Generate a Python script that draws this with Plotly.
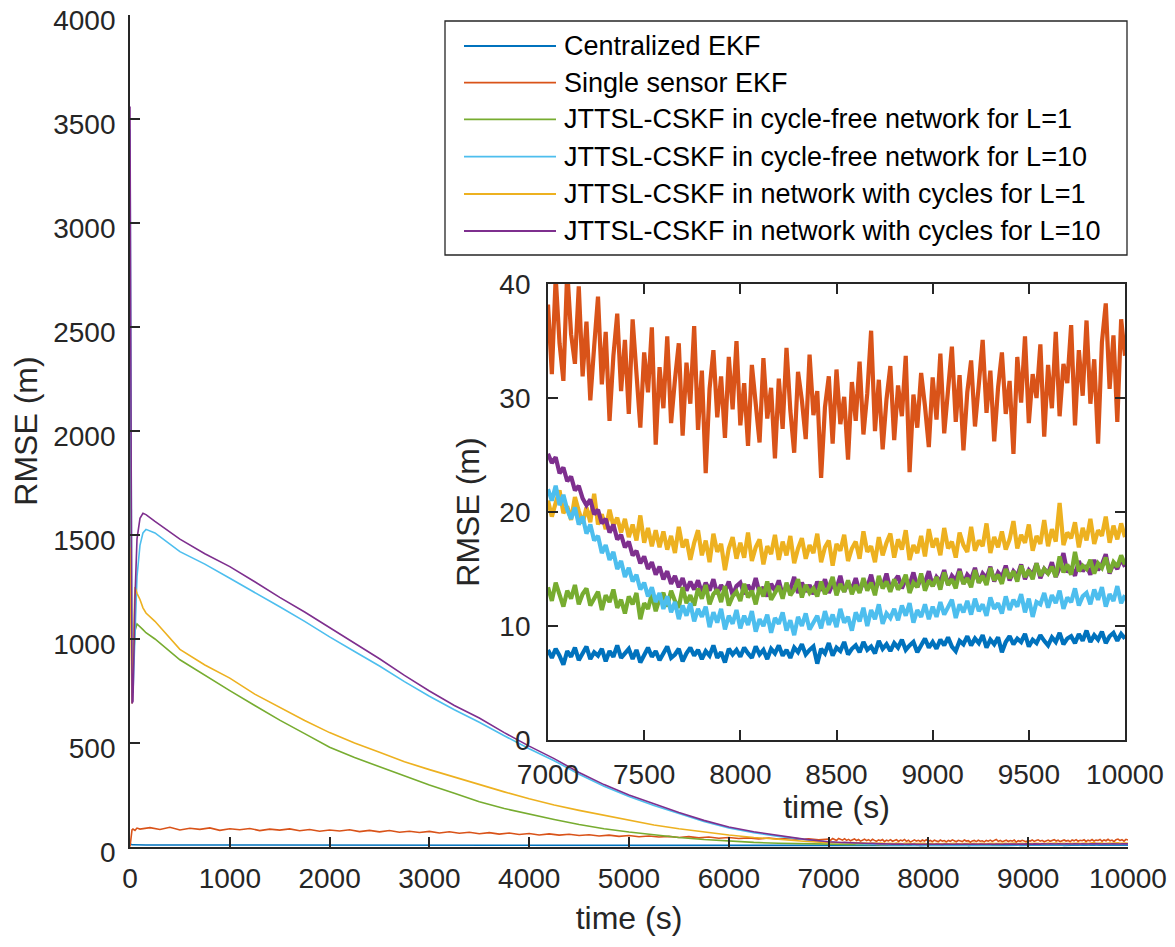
import plotly.graph_objects as go

# ---------------- data ----------------
series_names = [
    "Centralized EKF",
    "Single sensor EKF",
    "JTTSL-CSKF in cycle-free network for L=1",
    "JTTSL-CSKF in cycle-free network for L=10",
    "JTTSL-CSKF in network with cycles for L=1",
    "JTTSL-CSKF in network with cycles for L=10",
]
series_colors = ["#0072BD", "#D95319", "#77AC30", "#4DBEEE", "#EDB120", "#7E2F8E"]

# time grid for the smooth part of the main curves (0 .. 6750 s)
t_main = [0, 10, 20, 30, 50, 70, 100, 130, 160] + list(range(250, 7000, 250))
# time grid for the noisy single-sensor curve in the main plot (0 .. 6900 s)
t_single = [0, 10, 20, 30, 50, 70] + list(range(100, 7000, 100))
# time grid of the zoomed part (7000 .. 10000 s, every 20 s)
t_zoom = list(range(7000, 10001, 20))

centralized_main = [15, 12, 11, 11, 10.5, 10, 10, 10, 9.8,
                    9.8, 9.6, 9.5, 9.3, 9.2, 9.0, 8.9, 8.8, 8.7, 8.6, 8.5, 8.4, 8.3, 8.2,
                    8.1, 8.0, 8.0, 7.9, 7.9, 7.8, 7.8, 7.7, 7.7, 7.6, 7.6, 7.5, 7.5]
single_main = [2, 55, 82, 86, 80, 91,
               86, 93, 84, 95, 82, 90, 85, 92, 80, 88,
               83, 89, 79, 86, 81, 87, 78, 84, 76, 82,
               77, 83, 74, 80, 73, 79, 71, 76, 70, 75,
               67, 73, 66, 71, 64, 69, 62, 67, 60, 65,
               58, 63, 57, 61, 55, 59, 53, 57, 51, 55,
               49, 53, 48, 51, 46, 50, 44, 48, 42, 46,
               41, 44, 39, 43, 38, 41, 36, 40, 35]
cf1_main = [2300, 1400, 720, 850, 1040, 1072, 1060, 1045, 1030,
            1000, 900, 825, 752, 680, 610, 545, 480, 430, 385, 340, 298, 258, 218,
            185, 157, 132, 108, 88, 72, 58, 46, 36, 28, 22, 18, 15]
cf10_main = [3450, 1800, 760, 740, 1050, 1300, 1450, 1510, 1527,
             1510, 1420, 1360, 1292, 1225, 1155, 1085, 1010, 940, 870, 795, 725, 660, 600,
             535, 472, 415, 350, 292, 243, 200, 160, 123, 92, 69, 51, 35]
cyc1_main = [1440, 1000, 690, 900, 1250, 1220, 1190, 1150, 1125,
             1085, 950, 875, 812, 735, 670, 608, 550, 500, 455, 410, 372, 336, 300,
             265, 232, 202, 176, 153, 130, 106, 88, 72, 58, 46, 36, 28]
cyc10_main = [3560, 2000, 690, 700, 1200, 1480, 1580, 1604, 1598,
              1565, 1480, 1410, 1348, 1275, 1200, 1130, 1055, 980, 905, 825, 750, 680, 620,
              550, 485, 425, 358, 300, 250, 208, 166, 128, 96, 73, 55, 38]

centralized_zoom = [
    7.9, 7.2, 8.0, 7.4, 6.6, 7.8, 7.3, 8.1, 7.0, 7.6,
    8.2, 7.1, 7.7, 7.4, 8.0, 6.9, 7.8, 7.3, 8.3, 7.2,
    7.6, 8.0, 7.1, 7.9, 6.8, 7.5, 8.1, 7.3, 7.8, 7.0,
    7.7, 8.2, 7.2, 7.5, 8.0, 6.9, 7.6, 8.1, 7.4, 7.9,
    7.1, 7.8, 7.4, 8.3, 7.2, 7.7, 6.8, 8.0, 7.5, 7.9,
    7.3, 8.1, 7.6, 7.2, 8.2, 7.5, 7.9, 7.1, 8.0, 7.6,
    8.3, 7.4, 7.9, 7.2, 8.1, 7.7, 8.4, 7.5, 7.9, 8.2,
    6.7, 8.0, 7.6, 8.5, 7.4, 8.1, 7.8, 8.6, 7.5, 8.0,
    8.3, 7.7, 8.6, 7.9, 8.2, 7.6, 8.7, 8.0, 8.4, 7.8,
    8.5, 8.1, 8.8, 7.9, 8.3, 8.6, 7.7, 8.4, 8.9, 8.1,
    8.6, 8.0, 8.8, 8.3, 9.0, 8.2, 7.8, 8.7, 8.4, 9.1,
    8.3, 8.9, 8.5, 9.2, 8.1, 8.8, 8.4, 9.0, 7.7, 8.6,
    9.1, 8.4, 8.9, 8.6, 9.3, 8.2, 8.8, 8.5, 9.2, 8.7,
    8.3, 9.0, 8.6, 9.4, 8.4, 8.9, 9.1, 8.5, 9.3, 8.7,
    9.6, 8.6, 9.2, 8.8, 9.5, 8.5, 9.1, 9.4, 8.7, 9.3,
    8.9]
single_zoom = [
    38.2, 32.1, 40.6, 34.8, 31.5, 41.2, 35.6, 33.0, 39.8, 31.9,
    36.7, 29.8, 34.5, 38.9, 31.2, 35.8, 28.0, 33.7, 37.4, 30.6,
    35.1, 28.6, 36.9, 31.8, 27.4, 34.0, 30.5, 36.2, 25.9, 32.7,
    29.1, 35.4, 27.8, 31.6, 34.8, 26.7, 33.1, 29.5, 36.3, 27.2,
    32.4, 23.4, 30.8, 34.2, 28.3, 31.9, 26.5, 33.6, 29.0, 35.0,
    27.6, 31.3, 25.8, 32.9, 29.4, 26.1, 33.5, 28.2, 30.9, 24.7,
    31.7, 27.3, 34.4, 28.9, 25.2, 32.3, 29.8, 26.4, 33.8, 28.5,
    30.6, 23.0, 29.2, 31.9, 26.0, 32.5, 27.7, 30.1, 24.6, 31.4,
    28.0, 33.2, 26.8, 30.4, 35.9, 27.1, 31.6, 25.5, 29.9, 32.8,
    26.3, 31.1, 28.4, 33.7, 23.5, 30.3, 27.4, 32.2, 29.3, 25.7,
    31.8, 28.1, 33.9, 26.9, 30.7, 34.5, 27.9, 32.0, 25.4, 30.5,
    33.3, 27.5, 31.2, 35.1, 28.7, 32.4, 26.2, 30.9, 34.0, 28.6,
    31.5, 25.1, 33.6, 29.6, 35.4, 27.8, 32.1, 30.0, 34.7, 26.6,
    32.9, 29.1, 35.8, 28.4, 33.0, 31.3, 36.4, 27.6, 34.2, 30.2,
    36.8, 29.5, 33.4, 26.0, 34.9, 38.3, 30.8, 35.5, 27.9, 36.9,
    33.7]
cf1_zoom = [
    13.4, 12.2, 13.8, 12.6, 11.7, 13.1, 12.4, 13.6, 11.9, 12.8,
    13.3, 11.8, 12.5, 13.0, 11.4, 12.7, 12.1, 13.2, 11.6, 12.3,
    11.1, 12.6, 11.9, 12.9, 10.6, 12.0, 11.5, 12.8, 11.3, 12.4,
    12.9, 11.7, 13.1, 12.2, 11.6, 13.4, 12.0, 12.7, 11.8, 13.3,
    12.4, 13.6, 11.9, 12.8, 13.2, 12.1, 13.5, 11.8, 12.6, 13.0,
    12.2, 13.7, 12.5, 13.1, 11.9, 13.4, 12.6, 13.9, 12.3, 12.9,
    13.5, 12.4, 13.8, 12.7, 13.2, 14.1, 12.5, 13.6, 12.9, 13.3,
    12.6, 13.9, 12.8, 13.4, 14.3, 12.7, 13.7, 13.0, 14.0, 12.8,
    13.6, 12.9, 14.2, 13.1, 13.8, 12.7, 14.4, 13.3, 13.9, 13.0,
    14.1, 13.2, 13.7, 14.5, 12.9, 13.8, 13.4, 14.6, 13.1, 14.0,
    13.5, 14.3, 13.2, 14.7, 13.6, 14.1, 13.3, 14.8, 13.7, 14.2,
    13.4, 14.9, 13.8, 14.4, 13.6, 15.1, 14.0, 14.5, 13.7, 15.0,
    14.2, 14.8, 13.9, 15.3, 14.3, 14.9, 14.1, 15.5, 14.4, 15.0,
    14.6, 15.2, 14.3, 16.1, 14.7, 15.4, 14.5, 16.5, 14.8, 15.3,
    15.0, 15.8, 14.6, 15.5, 15.1, 16.0, 14.7, 15.6, 15.2, 16.2,
    15.4]
cf10_zoom = [
    22.0, 21.0, 22.3, 20.6, 21.5, 20.2, 19.4, 20.4, 18.9, 19.6,
    18.1, 18.9, 17.5, 17.9, 16.4, 17.1, 15.8, 16.5, 15.0, 15.7,
    14.3, 15.1, 13.9, 14.5, 13.2, 13.8, 12.6, 13.4, 12.1, 12.9,
    11.5, 12.6, 11.2, 12.1, 10.6, 11.8, 10.9, 12.0, 10.4, 11.5,
    10.8, 11.7, 9.9, 11.2, 10.3, 11.5, 9.7, 10.9, 10.2, 11.4,
    9.8, 10.9, 10.1, 11.3, 9.5, 10.6, 10.0, 11.0, 9.4, 10.7,
    10.2, 11.2, 9.6, 10.5, 9.2, 10.8, 10.0, 11.1, 9.7, 10.4,
    10.9, 9.8, 11.3, 10.1, 11.0, 9.9, 11.5, 10.3, 10.8, 9.6,
    11.2, 10.4, 11.6, 10.0, 11.4, 10.6, 11.9, 10.2, 11.1, 10.7,
    11.5, 10.5, 11.8, 10.9, 12.0, 10.3, 11.4, 10.8, 11.9, 10.6,
    11.7, 10.8, 12.1, 11.0, 11.6, 12.3, 10.7, 11.9, 11.2, 12.2,
    11.0, 12.4, 11.3, 11.9, 10.9, 12.5, 11.5, 12.0, 11.1, 12.6,
    11.4, 12.3, 11.7, 12.8, 11.2, 12.4, 10.8, 12.1, 11.9, 12.9,
    11.6, 12.7, 12.0, 13.1, 11.5, 12.5, 12.1, 13.3, 11.8, 12.6,
    12.9, 11.9, 13.2, 12.3, 13.4, 11.7, 12.8, 12.2, 13.5, 12.0,
    12.7]
cyc1_zoom = [
    21.0, 19.6, 20.8, 21.9, 19.9, 20.5, 19.3, 21.3, 20.1, 19.0,
    20.4, 19.1, 21.6, 18.9, 19.8, 18.5, 20.2, 18.8, 19.5, 18.2,
    19.4, 17.8, 18.9, 17.5, 19.7, 17.3, 18.6, 17.0, 18.4, 16.9,
    18.3, 16.7, 17.9, 16.4, 18.7, 16.9, 17.6, 15.8, 17.3, 18.4,
    16.2, 17.5, 15.6, 18.1, 16.5, 17.2, 14.9, 16.8, 17.8, 15.9,
    17.3, 16.0, 18.2, 15.7, 16.9, 17.6, 15.4, 17.0, 16.3, 18.0,
    15.8, 17.4, 16.2, 17.9, 15.5, 16.8, 17.7, 15.9, 17.1, 16.4,
    18.1, 15.6, 16.9, 17.5, 15.3, 17.2, 16.6, 18.0, 15.7, 16.8,
    17.4, 15.9, 18.3, 16.5, 17.0, 15.6, 17.8, 16.2, 17.3, 18.1,
    16.0, 17.6, 16.7, 18.4, 15.8, 17.1, 16.4, 17.9, 16.1, 18.5,
    16.9, 17.7, 16.2, 18.6, 16.8, 17.4, 16.0, 18.2, 17.1, 16.5,
    18.7, 16.6, 17.5, 17.0, 19.0, 16.4, 17.8, 16.9, 18.3, 16.7,
    17.6, 19.2, 16.8, 18.0, 17.3, 18.9, 16.6, 17.9, 17.2, 19.3,
    17.0, 18.5, 17.4, 20.8, 17.1, 18.2, 17.7, 19.1, 16.9, 18.6,
    17.5, 19.4, 17.2, 18.4, 17.9, 19.6, 17.3, 18.8, 17.6, 19.0,
    17.8]
cyc10_zoom = [
    25.1, 24.3, 24.8, 23.4, 23.9, 22.7, 23.1, 21.9, 22.3, 21.2,
    20.6, 21.1, 19.8, 20.2, 19.0, 19.4, 18.2, 18.9, 17.6, 18.0,
    16.9, 17.4, 16.2, 16.6, 15.5, 16.1, 15.0, 15.6, 14.5, 15.2,
    14.1, 14.8, 13.7, 14.4, 13.4, 14.2, 13.1, 13.9, 13.2, 14.0,
    12.9, 13.8, 13.1, 14.1, 12.8, 13.6, 13.0, 13.9, 12.7, 13.5,
    13.8, 12.8, 13.6, 13.0, 14.2, 12.9, 13.4, 12.6, 13.7, 13.1,
    14.0, 12.7, 13.5, 13.2, 14.3, 12.9, 13.8, 13.0, 13.6, 12.8,
    13.9, 13.1, 14.1, 12.9, 13.7, 13.3, 14.4, 13.0, 13.8, 13.2,
    14.2, 13.0, 13.9, 13.4, 14.5, 13.1, 14.0, 13.5, 14.6, 13.2,
    13.9, 14.4, 13.3, 14.1, 13.6, 14.7, 13.4, 14.2, 13.8, 14.8,
    13.5, 14.3, 13.9, 14.9, 13.6, 14.4, 14.0, 15.0, 13.7, 14.5,
    14.1, 15.1, 13.8, 14.6, 14.2, 15.2, 13.9, 14.7, 14.3, 15.3,
    14.0, 14.8, 14.4, 15.4, 14.1, 14.9, 14.5, 15.5, 14.2, 15.0,
    14.6, 15.6, 14.3, 15.1, 16.4, 14.7, 15.2, 14.4, 15.7, 14.8,
    15.3, 14.5, 15.8, 14.9, 15.4, 16.3, 14.6, 15.5, 15.0, 15.9,
    15.2]

main_x_ticks = list(range(0, 10001, 1000))
main_y_ticks = list(range(0, 4001, 500))
zoom_x_ticks = list(range(7000, 10001, 500))
zoom_y_ticks = [0, 10, 20, 30, 40]

# ---------------- figure ----------------
W, H = 1175, 947
OFF = 8  # page body margin of the browser
ML, MT = 130 - OFF, 15 - OFF
MR = W - (1128 - OFF)
MB = H - (847 - OFF)
PW, PH = W - ML - MR, H - MT - MB


def px_x(px):
    return (px - OFF - ML) / PW


def px_y(py):
    return (H - MB - (py - OFF)) / PH


AX = "#262626"
FONT = "Liberation Sans, Arial, Helvetica, sans-serif"

fig = go.Figure()

main_data = [
    (t_main, centralized_main, centralized_zoom),
    (t_single, single_main, single_zoom),
    (t_main, cf1_main, cf1_zoom),
    (t_main, cf10_main, cf10_zoom),
    (t_main, cyc1_main, cyc1_zoom),
    (t_main, cyc10_main, cyc10_zoom),
]
for i, (tt, early, late) in enumerate(main_data):
    fig.add_trace(go.Scatter(
        x=list(tt) + t_zoom, y=list(early) + late, mode="lines",
        line=dict(color=series_colors[i], width=1.6),
        name=series_names[i], showlegend=False, hoverinfo="skip",
        xaxis="x", yaxis="y"))

zoom_series = [centralized_zoom, single_zoom, cf1_zoom, cf10_zoom, cyc1_zoom, cyc10_zoom]
zoom_order = [4, 5, 2, 3, 1, 0]
for i in zoom_order:
    fig.add_trace(go.Scatter(
        x=t_zoom, y=zoom_series[i], mode="lines",
        line=dict(color=series_colors[i], width=4.2),
        name=series_names[i], showlegend=False, hoverinfo="skip",
        xaxis="x2", yaxis="y2"))

axis_common = dict(
    showline=True, linecolor=AX, linewidth=1.8, ticks="inside", ticklen=10,
    tickwidth=1.5, tickcolor=AX, showgrid=False, zeroline=False, automargin=False,
    tickformat="d", ticklabeloverflow="allow",
    tickfont=dict(family=FONT, size=28, color=AX),
)
title_font = dict(family=FONT, size=32, color=AX)

fig.update_layout(
    width=W, height=H,
    margin=dict(l=ML, r=MR, t=MT, b=MB),
    paper_bgcolor="white", plot_bgcolor="white",
    showlegend=False,
    xaxis=dict(domain=[0, 1], range=[0, 10000], tickvals=main_x_ticks,
               anchor="y", ticklabelstandoff=5,
               title=dict(text="time (s)", font=title_font, standoff=14),
               **axis_common),
    yaxis=dict(domain=[0, 1], range=[0, 4000], tickvals=main_y_ticks,
               anchor="x", ticklabelstandoff=7, ticklabelshift=5,
               title=dict(text="RMSE (m)", font=title_font, standoff=16),
               **axis_common),
    xaxis2=dict(domain=[px_x(548), px_x(1125)], range=[7000, 10000], tickvals=zoom_x_ticks,
                anchor="y2", mirror="ticks", ticklabelstandoff=8,
                title=dict(text="time (s)", font=title_font, standoff=0),
                **axis_common),
    yaxis2=dict(domain=[px_y(740), px_y(284)], range=[0, 40], tickvals=zoom_y_ticks,
                anchor="x2", mirror="ticks", ticklabelstandoff=10,
                title=dict(text="RMSE (m)", font=title_font, standoff=10),
                **axis_common),
)

# ---------------- legend (drawn as shapes + text) ----------------
fig.add_shape(type="rect", xref="paper", yref="paper",
              x0=px_x(445), x1=px_x(1127), y0=px_y(255), y1=px_y(21),
              line=dict(color=AX, width=1.3), fillcolor="white", layer="above")
row_py = [46, 82.7, 119.3, 156.7, 194, 231]
for i, name in enumerate(series_names):
    yy = px_y(row_py[i])
    fig.add_shape(type="line", xref="paper", yref="paper",
                  x0=px_x(464), x1=px_x(556), y0=yy, y1=yy,
                  line=dict(color=series_colors[i], width=1.8), layer="above")
    fig.add_annotation(x=px_x(562), y=yy, xref="paper", yref="paper",
                       text=name, showarrow=False, xanchor="left", yanchor="middle",
                       font=dict(family=FONT, size=27, color="black"))

fig.write_html("out.html")
